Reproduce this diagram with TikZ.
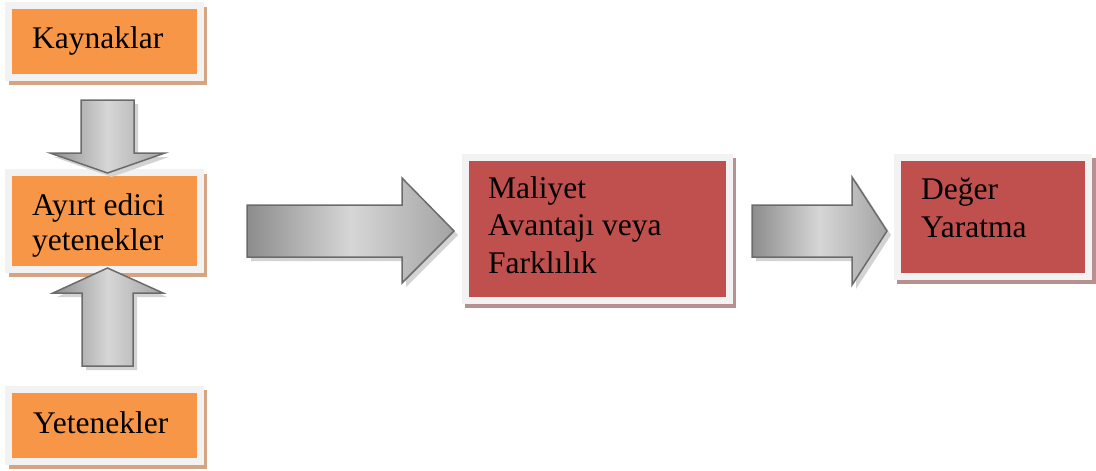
\documentclass[tikz,border=0pt]{standalone}
\usepackage{fontspec}
\setmainfont{Liberation Serif}
\usepackage{tikz}
\usetikzlibrary{shadows}

\definecolor{boxorange}{HTML}{F79646}
\definecolor{boxred}{HTML}{C0504D}
\definecolor{boxframe}{HTML}{F2F2F2}
\definecolor{orangeshade}{HTML}{D5A583}
\definecolor{redshade}{HTML}{B99090}
\definecolor{arrowedge}{HTML}{6B6B6B}
\definecolor{arrowshade}{HTML}{D3D3D3}

\tikzset{
  framed/.style={rectangle, draw=boxframe, line width=7pt, inner sep=0pt},
  orangebox/.style={framed, fill=boxorange, general shadow={fill=orangeshade, draw=orangeshade, line width=7pt, shadow xshift=3.5pt, shadow yshift=-4.5pt}},
  redbox/.style={framed, fill=boxred, general shadow={fill=redshade, draw=redshade, line width=7pt, shadow xshift=3.5pt, shadow yshift=-4.5pt}},
  boxtext/.style={anchor=base west, inner sep=0pt, font=\fontsize{31.5}{37.5}\selectfont},
  blockarrow/.style={draw=arrowedge, line width=1.5pt, line join=miter, left color=black!45, right color=black!36, middle color=black!16, general shadow={fill=arrowshade, shadow xshift=4pt, shadow yshift=-4pt}}
}

\begin{document}
\begin{tikzpicture}[x=1pt, y=-1pt]
\useasboundingbox (0,0) rectangle (1096,471);

% left column
\node[orangebox, minimum width=191.5pt, minimum height=71.5pt] (kaynak) at (104.25,41.25) {};
\node[orangebox, minimum width=191.5pt, minimum height=96.5pt] (ayirt) at (104.25,220.75) {};
\node[orangebox, minimum width=191.5pt, minimum height=72pt] (yetenek) at (104.25,425) {};
\node[boxtext] (kaynaktxt) at (32,48) {Kaynaklar};
\node[boxtext, font=\fontsize{31.5}{35}\selectfont] (ayirttxt) at (32,215) {\begin{tabular}[t]{@{}l@{}}Ayırt edici\\yetenekler\end{tabular}};
\node[boxtext] (yetenektxt) at (33,433) {Yetenekler};

% right side
\node[redbox, minimum width=264pt, minimum height=143pt] (maliyet) at (597,228.5) {};
\node[redbox, minimum width=191.5pt, minimum height=119pt] (deger) at (992.75,216.5) {};
\node[boxtext] (maliyettxt) at (488,198) {\begin{tabular}[t]{@{}l@{}}Maliyet\\Avantajı veya\\Farklılık\end{tabular}};
\node[boxtext, font=\fontsize{31.5}{38}\selectfont] (degertxt) at (921,199) {\begin{tabular}[t]{@{}l@{}}Değer\\Yaratma\end{tabular}};

% block arrows
\path[blockarrow] (81,100) -- (134,100) -- (134,153) -- (165,153) -- (107.5,173) -- (50,153) -- (81,153) -- cycle;
\path[blockarrow] (82,366) -- (133,366) -- (133,293) -- (163,293) -- (107.5,268) -- (53,293) -- (82,293) -- cycle;
\path[blockarrow] (247,205) -- (402,205) -- (402,178) -- (454,231) -- (402,283) -- (402,257) -- (247,257) -- cycle;
\path[blockarrow] (752,205) -- (852,205) -- (852,177) -- (887,231) -- (852,285) -- (852,257) -- (752,257) -- cycle;
\end{tikzpicture}
\end{document}
